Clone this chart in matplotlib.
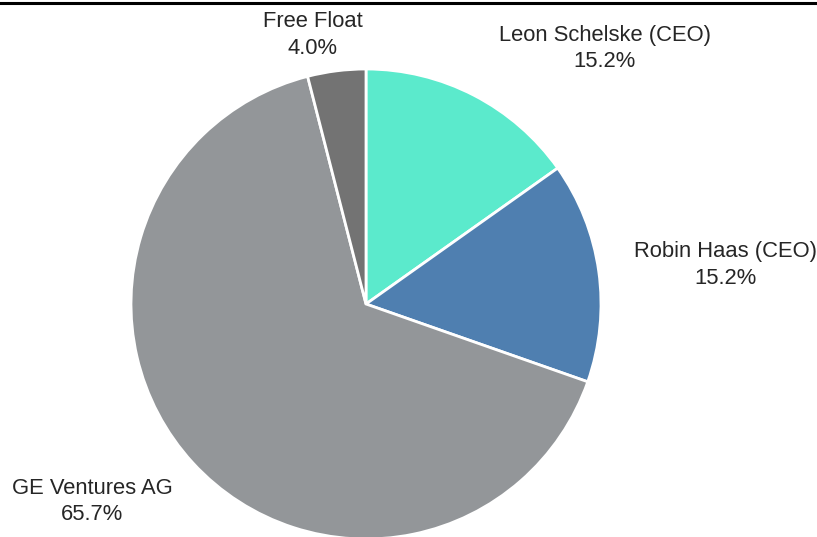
import matplotlib.pyplot as plt
from matplotlib.lines import Line2D

plt.rcParams['font.family'] = ['Liberation Sans', 'DejaVu Sans']

# shareholder data
holders = ['Leon Schelske (CEO)', 'Robin Haas (CEO)', 'GE Ventures AG', 'Free Float']
shares = [15.2, 15.2, 65.7, 4.0]
colors = ['#5beacc', '#4f7fb0', '#939699', '#737373']

# label anchor positions (data units, pie radius = 1)
label_x = [1.017, 1.528, -1.166, -0.226]
label_y = [1.086, 0.166, -0.840, 1.145]

W, H = 817, 537
cx, cy, r = 366, 304, 235

fig = plt.figure(figsize=(W / 100, H / 100), dpi=100)
ax = fig.add_axes([0, 0, 1, 1])

ax.pie(shares, colors=colors, startangle=90, counterclock=False,
       radius=1, wedgeprops=dict(edgecolor='white', linewidth=2))

for name, val, x, y in zip(holders, shares, label_x, label_y):
    ax.text(x, y, f"{name}\n{val:.1f}%", ha='center', va='center',
            fontsize=15.8, color='#262626', linespacing=1.33)

ax.set_xlim(-cx / r, (W - cx) / r)
ax.set_ylim(-(H - cy) / r, cy / r)
ax.set_aspect('equal')
ax.axis('off')

fig.add_artist(Line2D([0, 1], [1 - 2.5 / H, 1 - 2.5 / H], color='black',
                      linewidth=2.2, transform=fig.transFigure))

fig.savefig('out.png', dpi=100)
